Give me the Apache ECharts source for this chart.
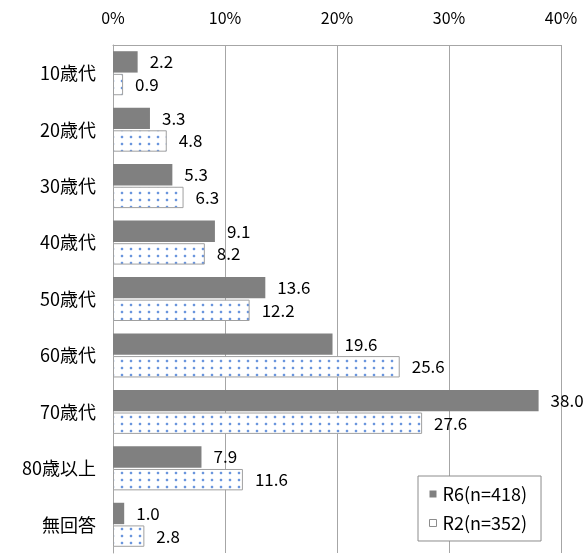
<!DOCTYPE html>
<html style="height: 100%">
<head>
    <meta charset="utf-8">
</head>
<body style="height: 100%; margin: 0; background: #fff">
<div id="container" style="width: 587px; height: 554px"></div>
<script type="text/javascript" src="https://cdn.jsdelivr.net/npm/echarts@6/dist/echarts.min.js"></script>
<script type="text/javascript">
    var categories = ['10歳代', '20歳代', '30歳代', '40歳代', '50歳代', '60歳代', '70歳代', '80歳以上', '無回答'];
    var r6Values = [2.2, 3.3, 5.3, 9.1, 13.6, 19.6, 38.0, 7.9, 1.0];
    var r2Values = [0.9, 4.8, 6.3, 8.2, 12.2, 25.6, 27.6, 11.6, 2.8];
    var seriesNames = ['R6(n=418)', 'R2(n=352)'];
    var tickLabels = ['0%', '10%', '20%', '30%', '40%'];

    var font = '"Noto Sans CJK JP", "Noto Sans", sans-serif';

    // dotted fill like the excel pattern
    var pat = document.createElement('canvas');
    pat.width = 9;
    pat.height = 7;
    var pctx = pat.getContext('2d');
    pctx.fillStyle = '#ffffff';
    pctx.fillRect(0, 0, 9, 7);
    pctx.fillStyle = '#e4ecf9';
    pctx.fillRect(4, 2, 2, 4);
    pctx.fillRect(3, 3, 4, 2);
    pctx.fillStyle = '#6a95dd';
    pctx.fillRect(4, 3, 2, 2);

    var dom = document.getElementById("container");
    var myChart = echarts.init(dom);

    var option = {
        animation: false,
        backgroundColor: '#fff',
        textStyle: {fontFamily: font},
        grid: {left: 113, right: 26, top: 45, bottom: 1},
        legend: {
            orient: 'vertical',
            left: 418,
            top: 476,
            padding: [9, 14, 9, 11],
            itemWidth: 7,
            itemHeight: 7,
            itemGap: 11,
            backgroundColor: '#fff',
            borderColor: '#8c8c8c',
            borderWidth: 1,
            textStyle: {fontFamily: font, fontSize: 18, color: '#000', padding: [0, 0, 0, 1]},
            data: [
                {name: seriesNames[0], icon: 'rect', itemStyle: {color: '#808080', borderWidth: 0}},
                {name: seriesNames[1], icon: 'rect', itemStyle: {color: '#fff', borderColor: '#8c8c8c', borderWidth: 1}}
            ]
        },
        xAxis: {
            type: 'value',
            position: 'top',
            min: 0,
            max: 40,
            interval: 10,
            axisLine: {show: true, lineStyle: {color: '#a6a6a6'}},
            axisTick: {show: false},
            splitLine: {show: true, lineStyle: {color: '#a6a6a6'}},
            axisLabel: {
                margin: 19,
                fontSize: 16,
                color: '#000',
                fontFamily: font,
                formatter: function (v) { return tickLabels[v / 10]; }
            }
        },
        yAxis: {
            type: 'category',
            inverse: true,
            data: categories,
            axisLine: {show: true, lineStyle: {color: '#a6a6a6'}},
            axisTick: {show: false},
            axisLabel: {margin: 17, fontSize: 18, color: '#000', fontFamily: font}
        },
        series: [
            {
                name: seriesNames[0],
                type: 'bar',
                data: r6Values,
                barGap: '6%',
                barCategoryGap: '22%',
                itemStyle: {color: '#808080'},
                label: {
                    show: true,
                    position: 'right',
                    distance: 12,
                    fontSize: 17,
                    color: '#000',
                    fontFamily: font,
                    formatter: function (p) { return p.value.toFixed(1); }
                }
            },
            {
                name: seriesNames[1],
                type: 'bar',
                data: r2Values,
                itemStyle: {color: {image: pat, repeat: 'repeat'}, borderColor: '#a0a0a0', borderWidth: 1},
                label: {
                    show: true,
                    position: 'right',
                    distance: 12,
                    fontSize: 17,
                    color: '#000',
                    fontFamily: font,
                    formatter: function (p) { return p.value.toFixed(1); }
                }
            }
        ]
    };

    myChart.setOption(option);
</script>
</body>
</html>
